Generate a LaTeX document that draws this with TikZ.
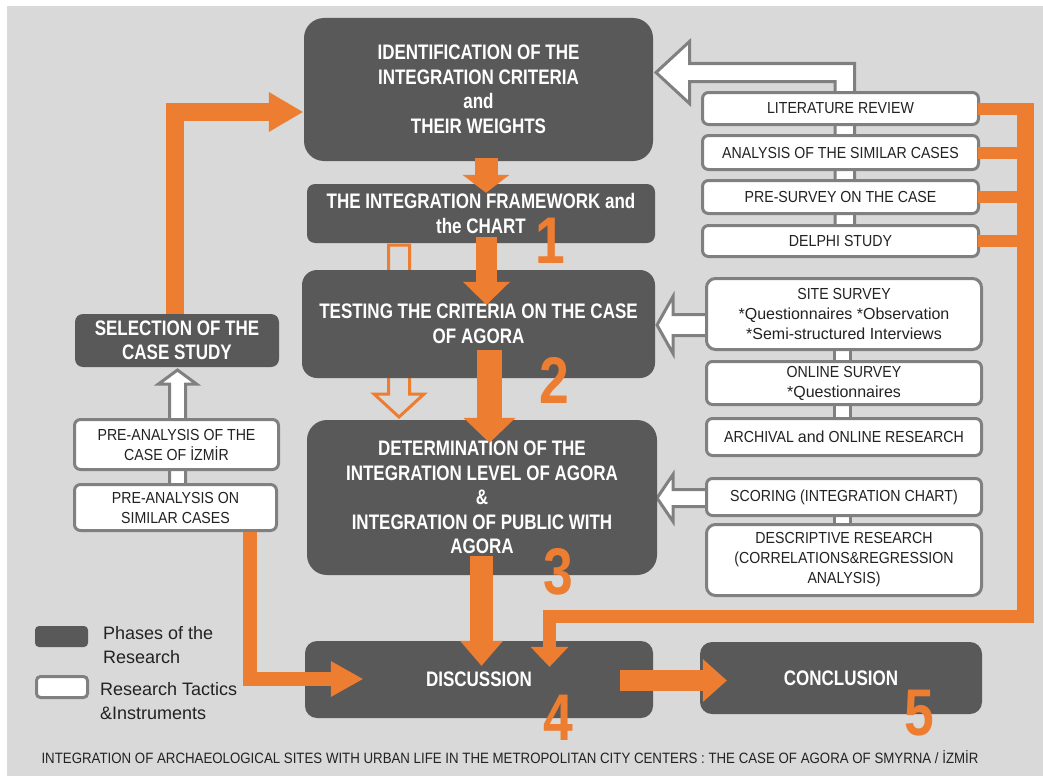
\documentclass[tikz,border=0pt]{standalone}
\usepackage{fontspec}
\setmainfont{Liberation Sans}
\newfontfamily\cnd{Liberation Sans}[FakeStretch=0.81]
\newfontfamily\cnw{Liberation Sans}[FakeStretch=0.885]
\newfontfamily\lcf{Liberation Sans}
\usetikzlibrary{arrows.meta,calc}
\definecolor{bgc}{HTML}{D9D9D9}
\definecolor{dk}{HTML}{595959}
\definecolor{org}{HTML}{ED7D31}
\definecolor{brd}{HTML}{808080}
\definecolor{txt}{HTML}{222222}
\begin{document}
\begin{tikzpicture}[x=1pt,y=-1pt,
 phase/.style={fill=dk, draw=none, text=white, align=center, font=\cnd\bfseries\fontsize{21}{24.5}\selectfont, inner sep=0pt},
 tactic/.style={fill=white, draw=brd, line width=3pt, text=txt, align=center, font=\cnw\fontsize{16}{20}\selectfont, rounded corners=6pt, inner sep=0pt},
 numlab/.style={text=org, font=\cnd\bfseries\fontsize{66}{66}\selectfont, inner sep=0pt},
 hollow/.style={fill=white, draw=brd, line width=3pt, line join=miter},
 oarrow/.style={draw=org, line join=miter},
 obar/.style={draw=org},
]
% background
\fill[white] (0,0) rectangle (1043,776);
\fill[bgc] (7,6) rectangle (1043,776);

% hollow white arrows (behind boxes)
\draw[hollow] (835,250) -- (835,81.5) -- (689.5,81.5) -- (689.5,103.5) -- (656,72.5) -- (689.5,41.5) -- (689.5,63.5) -- (854.5,63.5) -- (854.5,250) -- cycle;
\draw[hollow] (720,314.5) -- (673,314.5) -- (673,296.5) -- (657,325) -- (673,353.5) -- (673,335.5) -- (720,335.5) -- cycle;
\draw[hollow] (834.5,340) rectangle (850.5,430);
\draw[hollow] (720,489.5) -- (673,489.5) -- (673,474.5) -- (657,498) -- (673,521.5) -- (673,506.5) -- (720,506.5) -- cycle;
\draw[hollow] (834.5,505) rectangle (850.5,535);
\draw[hollow] (169.5,500) -- (169.5,384) -- (158.5,384) -- (177.5,370) -- (196.5,384) -- (185.5,384) -- (185.5,500) -- cycle;
% hollow orange arrow behind testing box
\draw[org, line width=3pt, line join=miter] (388.5,245) -- (409.5,245) -- (409.5,394) -- (424,394) -- (399,417) -- (374,394) -- (388.5,394) -- cycle;

% phases
\node[phase, rounded corners=20pt, minimum width=349pt, minimum height=143pt] (id) at (478.5,89.5) {IDENTIFICATION OF THE\\INTEGRATION CRITERIA\\and\\THEIR WEIGHTS};
\node[phase, rounded corners=8pt, minimum width=348pt, minimum height=59pt] (fw) at (481,213.5) {THE INTEGRATION FRAMEWORK and\\the CHART};
\node[phase, rounded corners=15pt, minimum width=353pt, minimum height=108pt] (test) at (478.5,324) {TESTING THE CRITERIA ON THE CASE\\OF AGORA};
\node[phase, rounded corners=20pt, minimum width=350pt, minimum height=155pt] (det) at (482,497.5) {DETERMINATION OF THE\\INTEGRATION LEVEL OF AGORA\\\&\\INTEGRATION OF PUBLIC WITH\\AGORA};
\node[phase, rounded corners=12pt, minimum width=348pt, minimum height=77pt] (disc) at (479,679.5) {DISCUSSION};
\node[phase, rounded corners=12pt, minimum width=282pt, minimum height=72pt] (conc) at (841,678) {CONCLUSION};
\node[phase, rounded corners=8pt, minimum width=204pt, minimum height=53pt] (sel) at (177,340.5) {SELECTION OF THE\\CASE STUDY};

% orange bracket from the literature tactics to discussion
\coordinate (brx) at (1034,0);
\draw[obar, line width=17pt] (1025.5,103) -- (1025.5,623);
\draw[obar, line width=13pt] (1034,616.5) -- (543,616.5);

% tactics
\node[tactic, minimum width=276pt, minimum height=32pt] (lit) at (840.5,108.5) {LITERATURE REVIEW};
\node[tactic, minimum width=276pt, minimum height=34pt] (ana) at (840.5,152.5) {ANALYSIS OF THE SIMILAR CASES};
\node[tactic, minimum width=276pt, minimum height=33pt] (psv) at (840.5,197) {PRE-SURVEY ON THE CASE};
\node[tactic, minimum width=276pt, minimum height=31pt] (del) at (840.5,241) {DELPHI STUDY};
\node[tactic, minimum width=275pt, minimum height=71pt, rounded corners=9pt] (site) at (844,314) {SITE SURVEY\\{\lcf *Questionnaires *Observation}\\{\lcf *Semi-structured Interviews}};
\node[tactic, minimum width=275pt, minimum height=43pt] (onl) at (844,383) {ONLINE SURVEY\\{\lcf *Questionnaires}};
\node[tactic, minimum width=275pt, minimum height=37pt] (arch) at (844,437) {ARCHIVAL {\lcf and} ONLINE RESEARCH};
\node[tactic, minimum width=275pt, minimum height=37pt] (scor) at (844,497) {SCORING (INTEGRATION CHART)};
\node[tactic, minimum width=275pt, minimum height=71pt, rounded corners=9pt] (desc) at (844,560) {DESCRIPTIVE RESEARCH\\(CORRELATIONS\&REGRESSION\\ANALYSIS)};
\node[tactic, minimum width=204pt, minimum height=50pt] (pre1) at (176.5,444.5) {PRE-ANALYSIS OF THE\\CASE OF İZMİR};
\node[tactic, minimum width=202pt, minimum height=46pt] (pre2) at (175.5,507.5) {PRE-ANALYSIS ON\\SIMILAR CASES};

% orange stubs
\foreach \b in {lit,ana,psv,del}{
  \draw[obar, line width=12pt] ([xshift=-2pt]\b.east) -- (\b.east -| brx);
}
\draw[oarrow, line width=13pt, -{Triangle[length=20pt,width=38pt,line width=0pt]}] (549.5,610) -- ($(disc.north)+(70.5,26)$);

% orange solid arrows
\draw[oarrow, line width=23pt, -{Triangle[length=18pt,width=47pt,line width=0pt]}] ($(id.south)+(7.5,-3)$) -- ($(fw.north)+(5,9)$);
\draw[oarrow, line width=21pt, -{Triangle[length=23pt,width=47pt,line width=0pt]}] ($(fw.south)+(5.5,-6)$) -- ($(test.north)+(8,35)$);
\draw[oarrow, line width=25pt, -{Triangle[length=25pt,width=52pt,line width=0pt]}] ($(test.south)+(11,-28)$) -- ($(det.north)+(7.5,23)$);
\draw[oarrow, line width=23pt, -{Triangle[length=25pt,width=43pt,line width=0pt]}] ($(det.south)+(-0.5,-19)$) -- ($(disc.north)+(2.5,25)$);
\draw[oarrow, line width=21pt, -{Triangle[length=24pt,width=43pt,line width=0pt]}] ($(disc.east)+(-33,1)$) -- ($(conc.west)+(27,2.5)$);
\draw[oarrow, line width=18pt, -{Triangle[length=34pt,width=40pt,line width=0pt]}] ($(sel.north)+(-2,0)$) |- ($(id.west)+(-1,22.5)$);
\draw[oarrow, line width=14pt, -{Triangle[length=32pt,width=36pt,line width=0pt]}] ($(pre2.south)+(74,0)$) |- ($(disc.west)+(58,-0.5)$);

% phase numbers
\node[numlab] (n1) at (550,241) {1};
\node[numlab] (n2) at (554,380) {2};
\node[numlab] (n3) at (558,572) {3};
\node[numlab] (n4) at (558,718) {4};
\node[numlab] (n5) at (919,713) {5};

% legend
\node[fill=dk, draw=none, rounded corners=4pt, minimum width=53pt, minimum height=21pt, inner sep=0pt] (lg1) at (61.5,636.5) {};
\node[tactic, minimum width=51pt, minimum height=21pt, rounded corners=4pt] (lg2) at (62,687) {};
\node[anchor=west, align=left, font=\fontsize{18}{24}\selectfont, text=txt, inner sep=0pt] (lt1) at (103,645) {Phases of the\\Research};
\node[anchor=west, align=left, font=\fontsize{18}{24}\selectfont, text=txt, inner sep=0pt] (lt2) at (100,701) {Research Tactics\\\&Instruments};

% caption
\node[font=\cnw\fontsize{15}{17}\selectfont, text=txt, inner sep=0pt] (cap) at (510,757) {INTEGRATION OF ARCHAEOLOGICAL SITES WITH URBAN LIFE IN THE METROPOLITAN CITY CENTERS : THE CASE OF AGORA OF SMYRNA / İZMİR};
\end{tikzpicture}
\end{document}
